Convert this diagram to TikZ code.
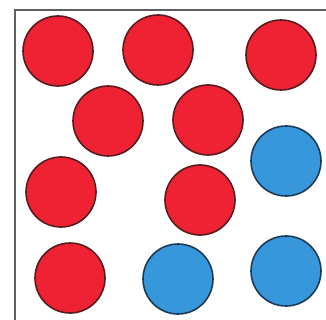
\documentclass[tikz,border=0pt]{standalone}
\usepackage{xcolor}
\usepackage{tikz}
\definecolor{ballred}{HTML}{EE2233}
\definecolor{edgered}{HTML}{5A1A1E}
\definecolor{ballblue}{HTML}{3797DB}
\definecolor{edgeblue}{HTML}{1B3A57}
\definecolor{frame}{HTML}{5F5F5F}
\tikzset{
  ball/.style={circle, draw=#1, line width=1.6pt, minimum size=70pt, inner sep=0pt},
  redball/.style={ball=edgered, fill=ballred},
  blueball/.style={ball=edgeblue, fill=ballblue},
}

\begin{document}
\begin{tikzpicture}[x=1pt, y=-1pt]
  \useasboundingbox (0,0) rectangle (326,320);
  \coordinate (bl) at (15,320);
  \coordinate (tl) at (15,10);
  \coordinate (tr) at (326,10);
  \draw[frame, line width=2pt] (bl) -- (tl) -- (tr);
  % red balls
  \node[redball] (r1) at (58,51) {};
  \node[redball] (r2) at (158,50) {};
  \node[redball] (r3) at (281,55) {};
  \node[redball] (r4) at (108,121) {};
  \node[redball] (r5) at (208,120) {};
  \node[redball] (r6) at (61,192) {};
  \node[redball] (r7) at (200,200) {};
  \node[redball] (r8) at (70,278) {};
  % blue balls
  \node[blueball] (b1) at (286,161) {};
  \node[blueball] (b2) at (178,279) {};
  \node[blueball] (b3) at (286,271) {};
\end{tikzpicture}
\end{document}
